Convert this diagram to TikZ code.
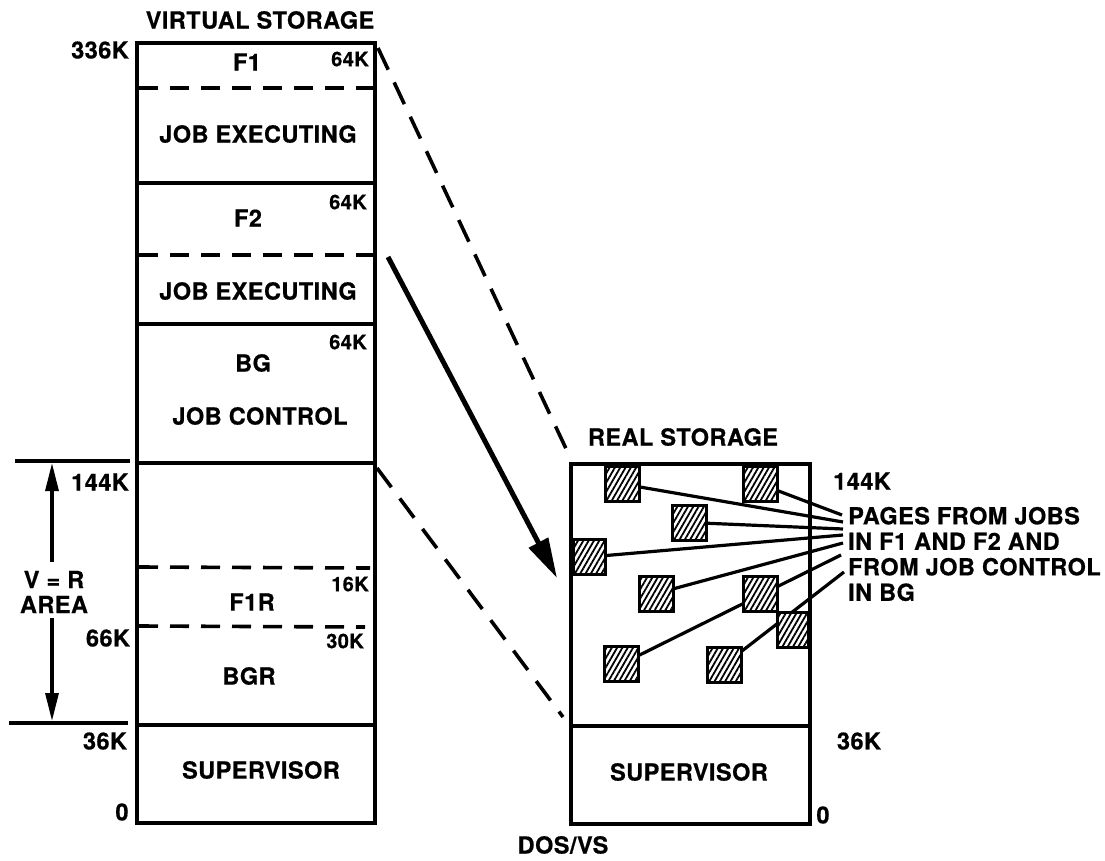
\documentclass[tikz,border=0pt]{standalone}
\usepackage{fontspec}
\setmainfont{TeX Gyre Heros}[BoldFeatures={FakeBold=0.6,LetterSpace=2}]
\usetikzlibrary{arrows.meta,patterns.meta}
\begin{document}
\begin{tikzpicture}[x=1pt,y=-1pt,
  lbl/.style={font=\fontsize{23.5}{26}\selectfont\bfseries, inner sep=0pt},
  sm/.style={font=\fontsize{20}{22}\selectfont\bfseries, inner sep=0pt},
  box/.style={line width=3.8pt},
  dsh/.style={line width=3.6pt, dash pattern=on 19pt off 12pt},
  link/.style={line width=3.6pt, dash pattern=on 24pt off 14pt},
  lead/.style={line width=3.2pt},
  pg/.style={draw, line width=3pt, minimum width=34pt, minimum height=35pt, inner sep=0pt,
    preaction={fill=white}, pattern={Lines[angle=60,distance=4.6pt,line width=1.8pt]}},
]
\useasboundingbox (0,0) rectangle (1105,861);

% ---------- virtual storage ----------
\draw[box] (137,43) rectangle (375,823);
\draw[box] (137,183) -- (375,183);
\draw[box] (137,324) -- (375,324);
\draw[box] (137,463) -- (375,463);
\draw[box] (137,725) -- (375,725);
\draw[dsh] (139,88) -- (373,88);
\draw[dsh] (139,255) -- (373,255);
\draw[dsh] (139,567) -- (370,568);
\draw[dsh] (139,626) -- (365,627);

\coordinate (vtop) at (375,43);
\coordinate (vmid) at (375,465);
\coordinate (jobx) at (388,257);

\node[lbl] (vs) at (260,20) {VIRTUAL STORAGE};
\node[lbl] (k336) at (100,50) {336K};
\node[lbl] (f1) at (247,62) {F1};
\node[sm] (k64a) at (350,59) {64K};
\node[lbl] (je1) at (258,134) {JOB EXECUTING};
\node[lbl] (f2) at (248,218) {F2};
\node[sm] (k64b) at (348,202) {64K};
\node[lbl] (je2) at (258,291) {JOB EXECUTING};
\node[lbl] (bg) at (253,363) {BG};
\node[sm] (k64c) at (348,342) {64K};
\node[lbl] (jc) at (260,416) {JOB CONTROL};
\node[lbl] (k144) at (100,482) {144K};
\node[lbl] (f1r) at (252,602) {F1R};
\node[sm] (k16) at (350,584) {16K};
\node[lbl] (k66) at (108,638) {66K};
\node[sm] (k30) at (345,641) {30K};
\node[lbl] (bgr) at (249,676) {BGR};
\node[lbl] (k36) at (105,741) {36K};
\node[lbl] (sup1) at (261,770) {SUPERVISOR};
\node[lbl] (z1) at (122,812) {0};

% V = R area
\draw[box] (15,461) -- (130,461);
\draw[box] (9,723) -- (128,723);
\node[lbl, align=center] (vr) at (54,592) {V = R\\[-1pt]AREA};
\coordinate (vrt) at (52,463);
\coordinate (vrb) at (52,721);
\draw[line width=3.2pt, -{Triangle[length=28pt,width=13pt]}] (52,562) -- (vrt);
\draw[line width=3.2pt, -{Triangle[length=28pt,width=13pt]}] (52,618) -- (vrb);

% ---------- real storage ----------
\draw[box] (571,464) rectangle (810,824);
\draw[box] (571,726) -- (810,726);
\coordinate (rtop) at (569,455);
\coordinate (rlow) at (563,717);
\coordinate (rarr) at (557,578);

\node[lbl] (rs) at (683,437) {REAL STORAGE};
\node[lbl] (k144r) at (862,481) {144K};
\node[lbl] (k36r) at (859,741) {36K};
\node[lbl] (z2) at (823,815) {0};
\node[lbl] (sup2) at (689,772) {SUPERVISOR};
\node[lbl] (dos) at (563,845) {DOS/VS};

% connectors between storages
\draw[link] (vtop) ++(3,5) -- (rtop);
\draw[link] (vmid) ++(2,3) -- (rlow);
\draw[line width=5pt, -{Triangle[length=40pt,width=21pt]}] (jobx) -- (rarr);

% pages text
\node[lbl, anchor=west, align=left] (pages) at (848,554)
  {PAGES FROM JOBS\\[-0.5pt]IN F1 AND F2 AND\\[-0.5pt]FROM JOB CONTROL\\[-0.5pt]IN BG};
\coordinate (e1) at (843,522);
\coordinate (e2) at (842,515);
\coordinate (e3) at (843,529);
\coordinate (e4) at (843,535);
\coordinate (e5) at (843,543);
\coordinate (e8) at (841,555);
\coordinate (e9) at (844,572);

% page squares (positions)
\coordinate (p1) at (622.5,484);
\coordinate (p2) at (760,484);
\coordinate (p3) at (689.5,522.5);
\coordinate (p4) at (589,557);
\coordinate (p5) at (656,593.5);
\coordinate (p6) at (760,593.5);
\coordinate (p7) at (792.5,630);
\coordinate (p8) at (621.5,664);
\coordinate (p9) at (724.5,664.5);

% leader lines (behind squares)
\draw[lead] (p1) -- (e1);
\draw[lead] (p2) -- (e2);
\draw[lead] (p3) -- (e3);
\draw[lead] (p4) -- (e4);
\draw[lead] (p5) -- (e5);
\draw[lead] (p8) -- (e8);
\draw[lead] (p9) -- (e9);

\node[pg] (sq1) at (p1) {};
\node[pg] (sq2) at (p2) {};
\node[pg] (sq3) at (p3) {};
\node[pg, minimum width=32pt] (sq4) at (p4) {};
\node[pg] (sq5) at (p5) {};
\node[pg] (sq6) at (p6) {};
\node[pg, minimum width=31pt] (sq7) at (p7) {};
\node[pg] (sq8) at (p8) {};
\node[pg] (sq9) at (p9) {};

% redraw real storage border over page squares at the edges
\draw[box] (571,464) -- (571,726);
\draw[box] (810,464) -- (810,726);
\end{tikzpicture}
\end{document}
